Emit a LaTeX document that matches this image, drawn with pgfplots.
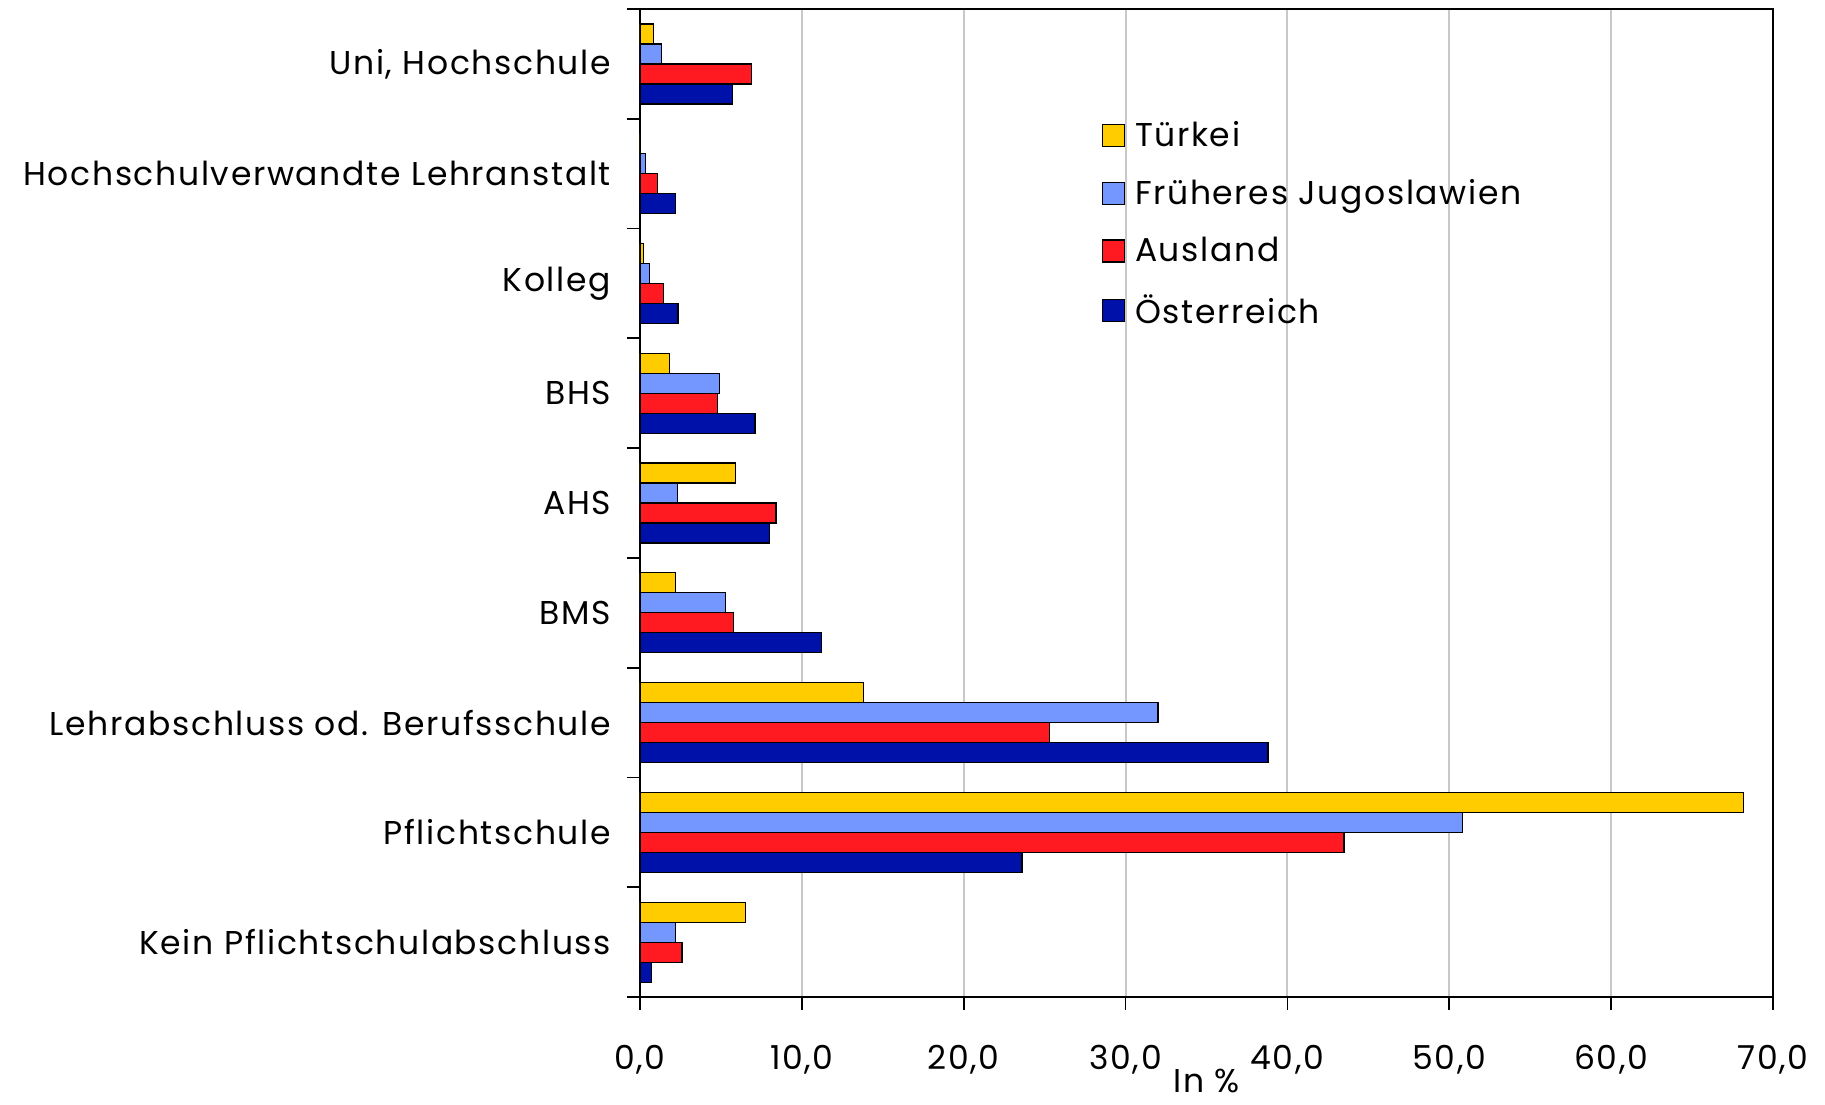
\documentclass[border=0pt]{standalone}
\usepackage{pgfplots}
\pgfplotsset{compat=1.18}
\usepackage{fontspec}
\setmainfont{Poppins}
\newfontfamily\lab{Poppins}[LetterSpace=5]
\definecolor{tuerkei}{HTML}{FFCC00}
\definecolor{jugo}{HTML}{7496FF}
\definecolor{ausland}{HTML}{FF1A22}
\definecolor{oest}{HTML}{0011AA}
\definecolor{gridgray}{HTML}{C8C8C8}
\begin{document}
\begin{tikzpicture}
\path[use as bounding box] (-320pt,-53.5pt) rectangle (592.5pt,498.5pt);
\begin{axis}[
  at={(0,0)}, anchor=south west, scale only axis,
  width=566.5pt, height=494pt,
  xbar, bar width=10pt,
  xmin=0, xmax=70, ymin=-0.5, ymax=8.5,
  xtick={0,10,...,70},
  ytick={-0.5,0.5,...,8.5}, yticklabels={},
  xtick pos=bottom, ytick pos=left,
  extra y ticks={0,1,2,3,4,5,6,7,8},
  extra y tick labels={Kein Pflichtschulabschluss,Pflichtschule,Lehrabschluss od. Berufsschule,BMS,AHS,BHS,Kolleg,Hochschulverwandte Lehranstalt,{Uni, Hochschule}},
  extra y tick style={major tick length=0pt, yticklabel style={font=\lab\fontsize{16.5}{18}\selectfont, xshift=-11pt}},
  tick align=outside, major tick length=6.5pt,
  tick style={black, line width=0.9pt},
  axis line style={black, line width=0.9pt},
  xmajorgrids, grid style={gridgray, line width=1pt},
  /pgf/number format/.cd, fixed, fixed zerofill, precision=1, use comma, assume math mode=true,
  /pgfplots/.cd,
  xticklabel style={font=\lab\fontsize{16.5}{18}\selectfont, yshift=-14pt},
  xlabel={In \%}, xlabel style={font=\lab\fontsize{16.5}{18}\selectfont, yshift=9.5pt},
  legend cell align=left,
  legend style={at={(rel axis cs:0.402,0.895)}, anchor=north west, draw=none, fill=none,
    font=\lab\fontsize{16.5}{18}\selectfont, row sep=11pt,
    nodes={inner xsep=5pt}},
  legend image code/.code={\draw[#1, line width=0.6pt] (0pt,-5.5pt) rectangle (11pt,5.5pt);},
]
\addplot[fill=tuerkei, draw=black, line width=0.6pt, bar shift=15pt] coordinates {
(6.5,0) (68.2,1) (13.8,2) (2.2,3) (5.9,4) (1.8,5) (0.2,6) (0,7) (0.84,8)};
\addlegendentry{Türkei}
\addplot[fill=jugo, draw=black, line width=0.6pt, bar shift=5pt] coordinates {
(2.2,0) (50.8,1) (32.0,2) (5.3,3) (2.3,4) (4.9,5) (0.6,6) (0.33,7) (1.34,8)};
\addlegendentry{Früheres Jugoslawien}
\addplot[fill=ausland, draw=black, line width=0.6pt, bar shift=-5pt] coordinates {
(2.6,0) (43.5,1) (25.3,2) (5.8,3) (8.4,4) (4.8,5) (1.46,6) (1.09,7) (6.9,8)};
\addlegendentry{Ausland}
\addplot[fill=oest, draw=black, line width=0.6pt, bar shift=-15pt] coordinates {
(0.72,0) (23.6,1) (38.8,2) (11.2,3) (8.0,4) (7.1,5) (2.35,6) (2.2,7) (5.7,8)};
\addlegendentry{Österreich}
\end{axis}
\end{tikzpicture}
\end{document}
